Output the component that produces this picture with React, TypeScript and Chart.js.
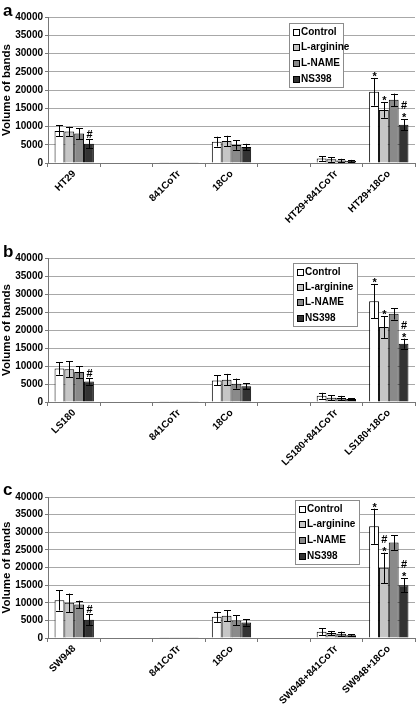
import React, { useEffect, useRef } from "react";
import { Chart, registerables } from "chart.js";

Chart.register(...registerables);

const FONT = "'Liberation Sans', Arial, Helvetica, sans-serif";

const SERIES = ["Control", "L-arginine", "L-NAME", "NS398"];
const COLORS = ["#ffffff", "#c6c6c6", "#8a8a8a", "#333333"];

// Panel a
const labelsA = ["HT29", "", "841CoTr", "18Co", "", "HT29+841CoTr", "HT29+18Co"];
const controlA = [8800, null, 200, 5850, null, 1250, 19500];
const larginineA = [8600, null, 200, 6050, null, 1000, 14500];
const lnameA = [8050, null, 200, 4950, null, 700, 17300];
const ns398A = [5300, null, 200, 4350, null, 550, 10500];
const controlErrA = [1500, null, 0, 1350, null, 650, 3800];
const larginineErrA = [1300, null, 0, 1400, null, 650, 2100];
const lnameErrA = [1500, null, 0, 1350, null, 450, 1700];
const ns398ErrA = [1300, null, 0, 900, null, 300, 1500];
const controlNoteA = ["", "", "", "", "", "", "*"];
const larginineNoteA = ["", "", "", "", "", "", "*"];
const lnameNoteA = ["", "", "", "", "", "", ""];
const ns398NoteA = ["#", "", "", "", "", "", "#*"];

// Panel b
const labelsB = ["LS180", "", "841CoTr", "18Co", "", "LS180+841CoTr", "LS180+18Co"];
const controlB = [9300, null, 200, 6000, null, 1750, 28000];
const larginineB = [9100, null, 200, 6200, null, 1200, 20800];
const lnameB = [8300, null, 200, 5100, null, 1100, 24500];
const ns398B = [5700, null, 200, 4350, null, 800, 16200];
const controlErrB = [1700, null, 0, 1400, null, 800, 4800];
const larginineErrB = [2200, null, 0, 1600, null, 700, 3000];
const lnameErrB = [1600, null, 0, 1400, null, 600, 1600];
const ns398ErrB = [900, null, 0, 800, null, 300, 1400];
const controlNoteB = ["", "", "", "", "", "", "*"];
const larginineNoteB = ["", "", "", "", "", "", "*"];
const lnameNoteB = ["", "", "", "", "", "", ""];
const ns398NoteB = ["#", "", "", "", "", "", "#*"];

// Panel c
const labelsC = ["SW948", "", "841CoTr", "18Co", "", "SW948+841CoTr", "SW948+18Co"];
const controlC = [10700, null, 200, 6000, null, 1800, 31700];
const larginineC = [10000, null, 200, 6300, null, 1400, 19900];
const lnameC = [9500, null, 200, 5000, null, 1200, 27100];
const ns398C = [5200, null, 200, 4400, null, 800, 15000];
const controlErrC = [2900, null, 0, 1400, null, 900, 5000];
const larginineErrC = [2600, null, 0, 1600, null, 600, 4300];
const lnameErrC = [1100, null, 0, 1400, null, 600, 2100];
const ns398ErrC = [1500, null, 0, 900, null, 200, 2000];
const controlNoteC = ["", "", "", "", "", "", "*"];
const larginineNoteC = ["", "", "", "", "", "", "#*"];
const lnameNoteC = ["", "", "", "", "", "", ""];
const ns398NoteC = ["#", "", "", "", "", "", "#*"];

const Y_MAX = 40000;
const Y_STEP = 5000;
const Y_TITLE = "Volume of bands";

type PanelProps = {
  letter: string;
  labels: string[];
  values: (number | null)[][];
  errors: (number | null)[][];
  notes: string[][];
  top: number;
  height: number;
  plotTop: number;
  plotBottom: number;
  legendBox: { x: number; y: number; w: number; h: number };
  letterBaseline: number;
};

function Panel(props: PanelProps) {
  const ref = useRef<HTMLCanvasElement | null>(null);
  useEffect(() => {
    const canvas = ref.current;
    if (!canvas) return;
    const { values, errors, notes, legendBox, letter, letterBaseline, plotTop, plotBottom, height } = props;

    const extras = {
      id: "extras",
      afterDatasetsDraw(chart: any) {
        const ctx = chart.ctx;
        const y = chart.scales.y;
        ctx.save();
        chart.data.datasets.forEach((ds: any, i: number) => {
          const meta = chart.getDatasetMeta(i);
          meta.data.forEach((el: any, j: number) => {
            const v = values[i][j];
            const e = errors[i][j];
            if (v == null) return;
            const x = Math.round(el.x) + 0.5;
            let yTop = y.getPixelForValue(v);
            if (e) {
              yTop = y.getPixelForValue(v + e);
              const yBot = y.getPixelForValue(Math.max(v - e, 0));
              ctx.strokeStyle = "#000";
              ctx.lineWidth = 1;
              ctx.beginPath();
              ctx.moveTo(x, yTop);
              ctx.lineTo(x, yBot);
              ctx.moveTo(x - 3.5, Math.round(yTop) + 0.5);
              ctx.lineTo(x + 3.5, Math.round(yTop) + 0.5);
              ctx.moveTo(x - 3.5, Math.round(yBot) + 0.5);
              ctx.lineTo(x + 3.5, Math.round(yBot) + 0.5);
              ctx.stroke();
            }
            const note = notes[i][j];
            if (note) {
              const chars = note.split("");
              ctx.fillStyle = "#000";
              ctx.textAlign = "center";
              ctx.textBaseline = "alphabetic";
              let base = yTop - 1;
              for (let k = chars.length - 1; k >= 0; k--) {
                const c = chars[k];
                if (c === "*") {
                  ctx.font = `bold 11px ${FONT}`;
                  ctx.fillText(c, el.x + 0.5, base + 3);
                  base -= 9;
                } else {
                  ctx.font = `bold 11px ${FONT}`;
                  ctx.fillText(c, el.x + 0.5, base);
                  base -= 11;
                }
              }
            }
          });
        });
        ctx.restore();
      },
      afterDraw(chart: any) {
        const ctx = chart.ctx;
        ctx.save();
        const b = legendBox;
        ctx.fillStyle = "#ffffff";
        ctx.fillRect(b.x, b.y, b.w, b.h);
        ctx.strokeStyle = "#8c8c8c";
        ctx.lineWidth = 1;
        ctx.strokeRect(Math.round(b.x) + 0.5, Math.round(b.y) + 0.5, b.w, b.h);
        const step = (b.h - 17) / 3;
        SERIES.forEach((name, i) => {
          const cy = b.y + 8.5 + i * step;
          const sx = Math.round(b.x) + 4.5;
          const sy = Math.round(cy - 3) + 0.5;
          ctx.fillStyle = COLORS[i];
          ctx.fillRect(sx, sy, 6, 6);
          ctx.strokeStyle = "#000";
          ctx.strokeRect(sx, sy, 6, 6);
          ctx.fillStyle = "#000";
          ctx.font = `bold 10px ${FONT}`;
          ctx.textAlign = "left";
          ctx.textBaseline = "middle";
          ctx.fillText(name, b.x + 12, cy + 0.5);
        });
        ctx.font = `bold 17px ${FONT}`;
        ctx.textAlign = "left";
        ctx.textBaseline = "alphabetic";
        ctx.fillStyle = "#000";
        ctx.fillText(letter, 3, letterBaseline);
        ctx.restore();
      },
    };

    const chart = new Chart(canvas, {
      type: "bar",
      data: {
        labels: props.labels,
        datasets: SERIES.map((name, i) => ({
          label: name,
          data: values[i] as any,
          backgroundColor: COLORS[i],
          borderColor: "#000000",
          borderWidth: 1,
          barPercentage: 1,
          categoryPercentage: 0.75,
        })),
      },
      options: {
        responsive: false,
        animation: false,
        devicePixelRatio: 1,
        layout: { padding: { top: plotTop, right: 2, left: 0, bottom: 0 } },
        plugins: {
          legend: { display: false },
          tooltip: { enabled: false },
          title: { display: false },
        },
        scales: {
          x: {
            offset: true,
            grid: {
              display: true,
              offset: true,
              drawOnChartArea: false,
              drawTicks: true,
              tickLength: 4,
              tickColor: "#777777",
            },
            border: { display: true, color: "#777777", width: 1 },
            ticks: {
              autoSkip: false,
              maxRotation: 45,
              minRotation: 45,
              padding: 1,
              color: "#000000",
              font: { family: FONT, size: 10, weight: "bold" },
            },
            afterFit: (scale: any) => {
              scale.height = height - plotBottom;
            },
          },
          y: {
            min: 0,
            max: Y_MAX,
            ticks: {
              stepSize: Y_STEP,
              padding: 2,
              color: "#000000",
              font: { family: FONT, size: 10, weight: "bold" },
              callback: (v: any) => String(v),
            },
            grid: {
              color: "#a8a8a8",
              tickColor: "#777777",
              tickLength: 3,
              lineWidth: 1,
            },
            border: { display: true, color: "#777777", width: 1 },
            title: {
              display: true,
              text: Y_TITLE,
              color: "#000000",
              font: { family: FONT, size: 11.5, weight: "bold" },
              padding: { top: 0, bottom: 0 },
            },
            afterFit: (scale: any) => {
              scale.width = 48;
            },
          },
        },
      },
      plugins: [extras],
    } as any);
    return () => chart.destroy();
  }, []);

  return (
    <div style={{ position: "absolute", left: 0, top: props.top, width: 417, height: props.height }}>
      <canvas ref={ref} width={417} height={props.height} style={{ width: 417, height: props.height, display: "block" }} />
    </div>
  );
}

export default function App() {
  return (
    <div style={{ position: "absolute", left: 0, top: 0, width: 417, height: 706, background: "#fff" }}>
      <Panel
        letter="a"
        labels={labelsA}
        values={[controlA, larginineA, lnameA, ns398A]}
        errors={[controlErrA, larginineErrA, lnameErrA, ns398ErrA]}
        notes={[controlNoteA, larginineNoteA, lnameNoteA, ns398NoteA]}
        top={0}
        height={235}
        plotTop={17}
        plotBottom={163}
        legendBox={{ x: 289, y: 23, w: 54, h: 64 }}
        letterBaseline={16}
      />
      <Panel
        letter="b"
        labels={labelsB}
        values={[controlB, larginineB, lnameB, ns398B]}
        errors={[controlErrB, larginineErrB, lnameErrB, ns398ErrB]}
        notes={[controlNoteB, larginineNoteB, lnameNoteB, ns398NoteB]}
        top={235}
        height={235}
        plotTop={23}
        plotBottom={167}
        legendBox={{ x: 293, y: 28, w: 64, h: 63 }}
        letterBaseline={22}
      />
      <Panel
        letter="c"
        labels={labelsC}
        values={[controlC, larginineC, lnameC, ns398C]}
        errors={[controlErrC, larginineErrC, lnameErrC, ns398ErrC]}
        notes={[controlNoteC, larginineNoteC, lnameNoteC, ns398NoteC]}
        top={470}
        height={236}
        plotTop={27}
        plotBottom={168}
        legendBox={{ x: 295, y: 30, w: 64, h: 64 }}
        letterBaseline={25}
      />
    </div>
  );
}
